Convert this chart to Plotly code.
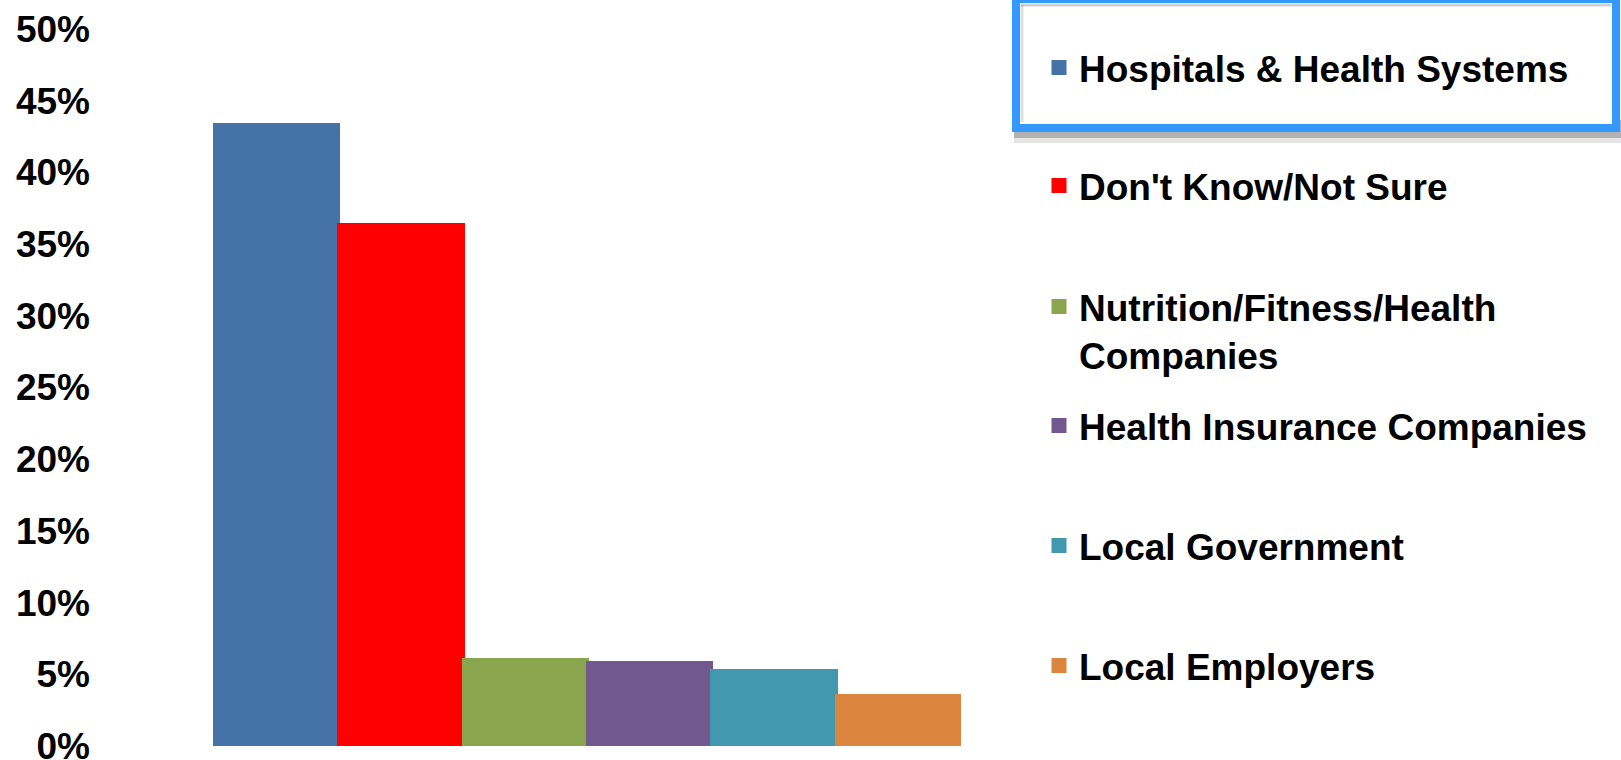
import plotly.graph_objects as go

categories = ["Hospitals & Health Systems", "Don't Know/Not Sure",
              "Nutrition/Fitness/Health<br>Companies", "Health Insurance Companies",
              "Local Government", "Local Employers"]
values = [43.3, 36.3, 6.0, 5.8, 5.2, 3.5]
colors = ["#4572A7", "#FF0000", "#89A54E", "#71588F", "#4198AF", "#DB843D"]
y_ticks = [0, 5, 10, 15, 20, 25, 30, 35, 40, 45, 50]
y_tick_labels = ["0%", "5%", "10%", "15%", "20%", "25%", "30%", "35%", "40%", "45%", "50%"]

W, H = 1621, 760
L, R, T, B = 91, 961, 29, 746  # plot area in pixels


def px(x):
    return (x - L) / (R - L)


def py(y):
    return (B - y) / (B - T)


FONT = dict(family="Liberation Sans, Arial, sans-serif", size=37, color="black", weight="bold")

fig = go.Figure()
legend_ids = ["legend", "legend2", "legend3", "legend4", "legend5", "legend6"]
for name, v, c, lg in zip(categories, values, colors, legend_ids):
    fig.add_trace(go.Bar(
        x=[""], y=[v], name=name, legend=lg, showlegend=True,
        marker=dict(color=c, line=dict(color=c, width=3)),
        hoverinfo="skip",
    ))

# legend placement (pixel centres of each entry)
entry_y = [68, 186, 303, 426, 546, 666]
layout_legends = {}
for i, (lg, yy) in enumerate(zip(legend_ids, entry_y)):
    two_line = "<br>" in categories[i]
    layout_legends[lg] = dict(
        x=px(1039), xanchor="left",
        y=py(yy - 27) if two_line else py(yy), yanchor="top" if two_line else "middle",
        valign="top", font=FONT, bgcolor="rgba(0,0,0,0)", borderwidth=0,
        itemclick=False, itemdoubleclick=False,
    )

shapes = [
    # drop shadow
    dict(type="rect", xref="paper", yref="paper", layer="below",
         x0=px(1014), x1=px(1630), y0=py(143), y1=py(120),
         fillcolor="rgba(0,0,0,0.10)", line=dict(width=0)),
    dict(type="rect", xref="paper", yref="paper", layer="below",
         x0=px(1014), x1=px(1630), y0=py(138), y1=py(120),
         fillcolor="rgba(0,0,0,0.22)", line=dict(width=0)),
    # highlighted legend box
    dict(type="rect", xref="paper", yref="paper", layer="below",
         x0=px(1016), x1=px(1616), y0=py(128), y1=py(-1),
         fillcolor="white", line=dict(color="#3399FF", width=8)),
    # inner shading
    dict(type="line", xref="paper", yref="paper", layer="below",
         x0=px(1021), x1=px(1611), y0=py(5), y1=py(5),
         line=dict(color="rgba(0,0,0,0.18)", width=3)),
    dict(type="line", xref="paper", yref="paper", layer="below",
         x0=px(1022), x1=px(1022), y0=py(5), y1=py(122),
         line=dict(color="rgba(0,0,0,0.12)", width=3)),
]

fig.update_layout(
    width=W, height=H,
    margin=dict(l=L, r=W - R, t=T, b=H - B, pad=0, autoexpand=False),
    paper_bgcolor="white", plot_bgcolor="rgba(0,0,0,0)",
    barmode="group", bargap=0, bargroupgap=0,
    showlegend=True,
    font=FONT,
    shapes=shapes,
    **layout_legends,
)
fig.update_xaxes(range=[-0.5 - (215 - L) / 746, 0.5], showticklabels=False,
                 showgrid=False, zeroline=False, showline=False, fixedrange=True,
                 automargin=False)
fig.update_yaxes(range=[0, 50], tickmode="array", tickvals=y_ticks, ticktext=y_tick_labels,
                 showgrid=False, zeroline=False, showline=False, ticks="",
                 ticklabeloverflow="allow", tickfont=FONT, fixedrange=True,
                 automargin=False)

fig.write_html("out.html", config=dict(displayModeBar=False))
